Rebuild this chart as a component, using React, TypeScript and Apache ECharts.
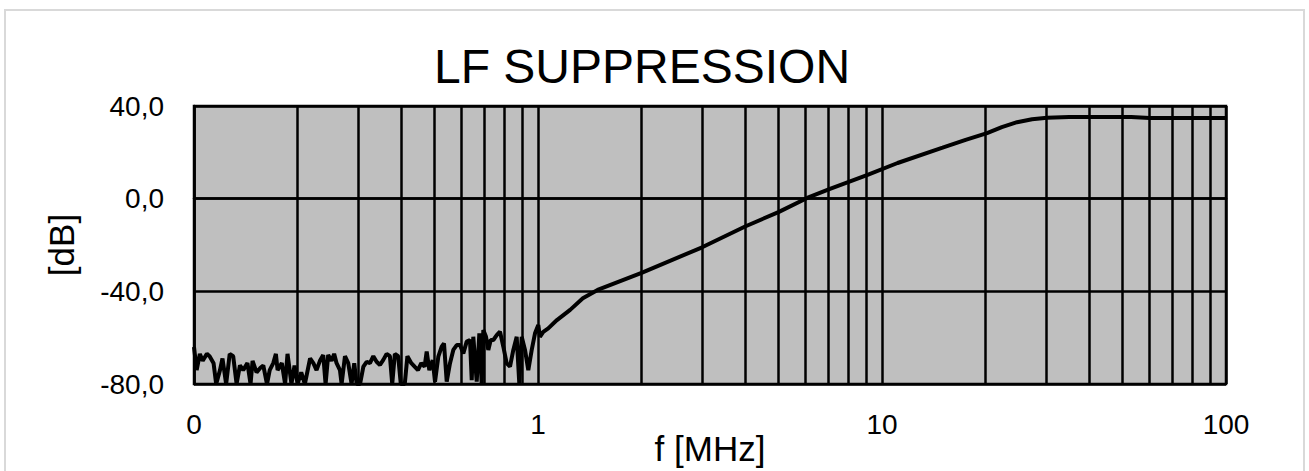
import React, { useEffect, useRef } from "react";
import * as echarts from "echarts";

const TITLE = "LF SUPPRESSION";
const X_NAME = "f [MHz]";
const Y_NAME = "[dB]";

// frequency in MHz
const freq: number[] = [
  0.1, 0.1018, 0.104, 0.106, 0.109, 0.111, 0.114, 0.116, 0.119, 0.121,
  0.124, 0.127, 0.13, 0.133, 0.136, 0.139, 0.143, 0.146, 0.148, 0.152,
  0.156, 0.159, 0.163, 0.166, 0.17, 0.173, 0.175, 0.18, 0.184, 0.187,
  0.192, 0.196, 0.2, 0.205, 0.21, 0.2175, 0.2223, 0.2271, 0.2323, 0.2375,
  0.2413, 0.2455, 0.2511, 0.2555, 0.2597, 0.2656, 0.2686, 0.2747, 0.2808, 0.2871,
  0.2923, 0.2971, 0.3039, 0.3107, 0.3176, 0.3247, 0.3321, 0.3395, 0.3472, 0.355,
  0.363, 0.3711, 0.3769, 0.3836, 0.3922, 0.3992, 0.4099, 0.4172, 0.4283, 0.4379,
  0.4478, 0.4578, 0.4681, 0.4747, 0.4832, 0.4942, 0.5019, 0.5131, 0.5248, 0.533,
  0.5428, 0.5549, 0.5673, 0.5804, 0.5934, 0.6066, 0.6205, 0.6343, 0.6417, 0.6485,
  0.6635, 0.6753, 0.6861, 0.6935, 0.7061, 0.7171, 0.7287, 0.7416, 0.7586, 0.7754,
  0.7929, 0.811, 0.8291, 0.8477, 0.8671, 0.8824, 0.8966, 0.9167, 0.9371, 0.9588,
  0.9802, 1.002, 1.013, 1.036, 1.071, 1.135, 1.24, 1.35, 1.49, 2.0,
  3.0, 4.0, 5.0, 6.06, 7.06, 9.04, 11.1, 15.0, 17.5, 20.2,
  22.3, 24.7, 27.3, 30.2, 35.0, 40.0, 53.0, 60.0, 100.0,
];

// suppression in dB
const gain: number[] = [
  -64, -74, -67, -70, -67, -68, -71, -80, -74, -69,
  -80, -67, -68, -80, -72, -74, -71, -80, -70, -75,
  -73, -72, -80, -74, -71, -67, -74, -71, -80, -67,
  -80, -72, -80, -75, -80, -69, -71, -74, -70, -67.5,
  -80, -67.5, -70, -67, -71, -74, -80, -68, -71, -80,
  -71, -80, -80, -72.5, -70.4, -71, -68, -70.4, -71.8, -69.6,
  -67, -68, -80, -67, -68, -80, -80, -68, -71, -72.5,
  -74, -71, -72.5, -66, -74, -69.7, -79, -68.2, -63.9, -62.5,
  -79, -71, -65.3, -63.2, -63.2, -66.8, -61.7, -61, -78.3, -59.6,
  -79, -58.1, -80, -56.7, -59.6, -65.3, -61, -61, -58.9, -57.4,
  -63.9, -71.1, -72.5, -65.3, -59.6, -80, -59.6, -65.3, -74, -65.3,
  -58.1, -54.5, -59.6, -57.5, -56, -52.4, -48, -43, -39.4, -32,
  -21, -12, -5.8, 0.3, 4.2, 10.2, 15.4, 22, 25.4, 28.3,
  30.9, 33, 34.3, 34.9, 35.2, 35.3, 35.3, 34.8, 34.8,
];

// axis ranges and ticks
const X_MIN = 0.1;
const X_MAX = 100;
const Y_MIN = -80;
const Y_MAX = 40;
const Y_STEP = 40;
// minor vertical grid lines of the log axis
const minorGridX: number[] = [
  0.2, 0.3, 0.4, 0.5, 0.6, 0.7, 0.8, 0.9,
  2, 3, 4, 5, 6, 7, 8, 9,
  20, 30, 40, 50, 60, 70, 80, 90,
];

const FONT = '"Liberation Sans", Arial, Helvetica, sans-serif';

export default function App() {
  const ref = useRef<HTMLDivElement>(null);

  useEffect(() => {
    document.body.style.margin = "0";
    if (!ref.current) return;
    const chart = echarts.init(ref.current, undefined, { renderer: "svg" });
    const data = freq.map((f, i) => [f, gain[i]]);

    chart.setOption({
      animation: false,
      backgroundColor: "#ffffff",
      graphic: [
        {
          type: "rect",
          shape: { x: 5, y: 10, width: 1299, height: 480 },
          style: { fill: "none", stroke: "#d9d9d9", lineWidth: 2 },
          silent: true,
          z: -10,
        },
        {
          type: "text",
          x: 642,
          y: 66,
          style: {
            text: TITLE,
            font: `48px ${FONT}`,
            fill: "#000000",
            textAlign: "center",
            textVerticalAlign: "middle",
          },
        },
      ],
      grid: {
        left: 194,
        top: 106,
        right: 83,
        bottom: 87,
        show: true,
        backgroundColor: "#bfbfbf",
        borderColor: "#000000",
        borderWidth: 2.5,
        containLabel: false,
        outerBoundsMode: "none",
      },
      xAxis: {
        type: "log",
        logBase: 10,
        min: X_MIN,
        max: X_MAX,
        name: X_NAME,
        nameLocation: "middle",
        nameGap: 47,
        nameMoveOverlap: false,
        nameTextStyle: { fontFamily: FONT, fontSize: 35, color: "#000" },
        axisLine: { show: true, lineStyle: { color: "#000", width: 2.5 } },
        axisTick: { show: false },
        axisLabel: {
          fontFamily: FONT,
          fontSize: 28,
          color: "#000",
          margin: 26,
          formatter: (v: number) => (v < 0.5 ? "0" : String(Math.round(v))),
        },
        splitLine: { show: true, lineStyle: { color: "#000", width: 2.5 } },
      },
      yAxis: {
        type: "value",
        min: Y_MIN,
        max: Y_MAX,
        interval: Y_STEP,
        name: Y_NAME,
        nameLocation: "middle",
        nameRotate: 90,
        nameGap: 115,
        nameMoveOverlap: false,
        nameTextStyle: { fontFamily: FONT, fontSize: 35, color: "#000" },
        axisLine: { show: true, lineStyle: { color: "#000", width: 2.5 } },
        axisTick: { show: false },
        axisLabel: {
          fontFamily: FONT,
          fontSize: 28,
          color: "#000",
          margin: 30,
          formatter: (v: number) => v.toFixed(1).replace(".", ","),
        },
        splitLine: { show: true, lineStyle: { color: "#000", width: 2.5 } },
      },
      series: [
        {
          type: "line",
          name: "grid",
          data: [],
          z: 1,
          silent: true,
          markLine: {
            silent: true,
            symbol: ["none", "none"],
            label: { show: false },
            emphasis: { disabled: true },
            lineStyle: { color: "#000", width: 2.5, type: "solid" },
            data: minorGridX.map((v) => ({ xAxis: v })),
          },
        },
        {
          type: "line",
          name: "LF suppression",
          data,
          z: 5,
          showSymbol: false,
          symbol: "none",
          lineStyle: { color: "#000", width: 4 },
          silent: true,
        },
      ],
    });

    return () => chart.dispose();
  }, []);

  return <div ref={ref} style={{ width: 1309, height: 471 }} />;
}
